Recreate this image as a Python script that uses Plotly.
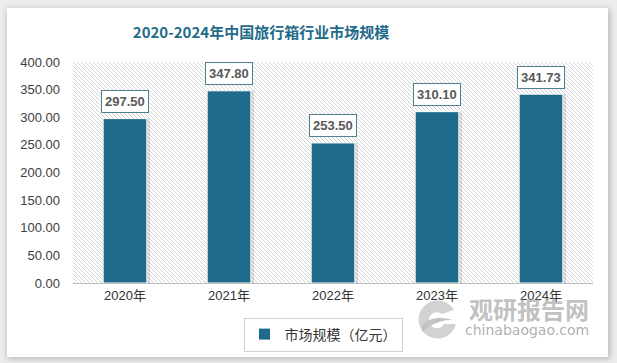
import base64
import plotly.graph_objects as go

years = ["2020年", "2021年", "2022年", "2023年", "2024年"]
market_size = [297.50, 347.80, 253.50, 310.10, 341.73]
series_name = "市场规模（亿元）"
title_text = "2020-2024年中国旅行箱行业市场规模"

W, H = 617, 363
ML, MR, MT, MB = 73, 24, 62, 80
PW, PH = W - ML - MR, H - MT - MB

bar_color = "#1d6a8b"

def svg_uri(svg):
    return "data:image/svg+xml;base64," + base64.b64encode(svg.encode("utf-8")).decode()

def px_x(p):
    return (p - ML) / PW

def px_y(p):
    return (MT + PH - p) / PH

card_svg = f'''<svg xmlns="http://www.w3.org/2000/svg" width="{W}" height="{H}" viewBox="0 0 {W} {H}">
<defs><filter id="b" x="-10%" y="-10%" width="120%" height="120%"><feGaussianBlur stdDeviation="3"/></filter></defs>
<rect x="0" y="0" width="{W}" height="{H}" fill="#ededed"/>
<rect x="7" y="9" width="603" height="350" fill="#b8b8b8" filter="url(#b)"/>
<rect x="7" y="8" width="601" height="349" fill="#ffffff"/>
</svg>'''

hatch_svg = f'''<svg xmlns="http://www.w3.org/2000/svg" width="{PW}" height="{PH}" viewBox="0 0 {PW} {PH}">
<defs><pattern id="p" patternUnits="userSpaceOnUse" width="4" height="4">
<path d="M-1,-1 L5,5 M-1,3 L1,5 M3,-1 L5,1" stroke="#d4d4d4" stroke-width="1"/>
</pattern></defs>
<rect x="0" y="0" width="{PW}" height="{PH}" fill="#ffffff"/>
<rect x="0" y="0" width="{PW}" height="{PH}" fill="url(#p)"/>
</svg>'''

logo_svg = '''<svg xmlns="http://www.w3.org/2000/svg" width="46" height="46" viewBox="0 0 46 46">
<path d="M40,14 A19,19 0 1 0 42,28 L30,28 A8,8 0 1 1 28,18 Z" fill="#c8c8c8"/>
<path d="M8,30 C14,22 26,20 38,24 C28,24 18,27 8,36 Z" fill="#b5b5b5"/>
</svg>'''

fig = go.Figure()

bw = 0.42
# shadow
fig.add_trace(go.Bar(
    x=years, y=market_size, width=bw + 0.035, offset=-bw / 2 - 0.005,
    marker=dict(color="rgba(0,0,0,0.13)", line=dict(width=0)),
    showlegend=False, hoverinfo="skip",
))
fig.add_trace(go.Bar(
    x=years, y=market_size, width=bw, offset=-bw / 2, name=series_name,
    marker=dict(color=bar_color, line=dict(color="#ffffff", width=1)),
))

for x, v in zip(years, market_size):
    fig.add_annotation(
        x=x, y=v, yshift=17, text=f"<b>{v:.2f}</b>", showarrow=False,
        font=dict(family="Liberation Sans, Arial, sans-serif", size=13, color="#595959"),
        bgcolor="#ffffff", bordercolor="#4d8090", borderwidth=1, borderpad=3,
    )

# watermark
fig.add_annotation(xref="paper", yref="paper", x=px_x(529), y=px_y(308), xanchor="center", yanchor="middle",
                   text="<b>观研报告网</b>", showarrow=False,
                   font=dict(family="Noto Sans CJK SC", size=24, color="rgba(140,140,140,0.55)"))
fig.add_annotation(xref="paper", yref="paper", x=px_x(527), y=px_y(330), xanchor="center", yanchor="middle",
                   text="chinabaogao.com", showarrow=False,
                   font=dict(family="DejaVu Sans, sans-serif", size=14, color="rgba(140,140,140,0.7)"))

fig.update_layout(
    width=W, height=H,
    margin=dict(l=ML, r=MR, t=MT, b=MB),
    paper_bgcolor="#ededed",
    plot_bgcolor="rgba(0,0,0,0)",
    barmode="overlay",
    title=dict(text=f"<b>{title_text}</b>", x=261 / W, xanchor="center", y=1 - 33 / H, yanchor="middle",
               font=dict(family="Noto Sans CJK SC", size=15, color="#1f6b8a")),
    font=dict(family="Liberation Sans, Arial, sans-serif"),
    showlegend=True,
    legend=dict(orientation="h", x=px_x(323), xanchor="center", y=px_y(334.5), yanchor="middle",
                bordercolor="#d0d0d0", borderwidth=1, bgcolor="#ffffff",
                font=dict(family="Noto Sans CJK SC", size=14, color="#333333"),
                itemwidth=30),
    images=[
        dict(source=svg_uri(card_svg), xref="paper", yref="paper", x=px_x(0), y=px_y(0),
             sizex=W / PW, sizey=H / PH, sizing="stretch", xanchor="left", yanchor="top", layer="below"),
        dict(source=svg_uri(hatch_svg), xref="paper", yref="paper", x=0, y=1,
             sizex=1, sizey=1, sizing="stretch", xanchor="left", yanchor="top", layer="below"),
        dict(source=svg_uri(logo_svg), xref="paper", yref="paper", x=px_x(414), y=px_y(296),
             sizex=46 / PW, sizey=46 / PH, sizing="stretch", xanchor="left", yanchor="top", layer="below",
             opacity=0.8),
    ],
    xaxis=dict(showline=True, linecolor="#bfbfbf", linewidth=1, ticks="",
               tickfont=dict(size=13, color="#333333", family="Liberation Sans, Noto Sans CJK SC")),
    yaxis=dict(range=[0, 400], dtick=50, tickformat=".2f", showgrid=False, zeroline=False,
               ticks="", ticklabelstandoff=12, tickfont=dict(size=13, color="#404040")),
)

fig.write_html("out.html", config={"displayModeBar": False},
               post_script="document.body.style.margin='0';document.body.style.overflow='hidden';")
